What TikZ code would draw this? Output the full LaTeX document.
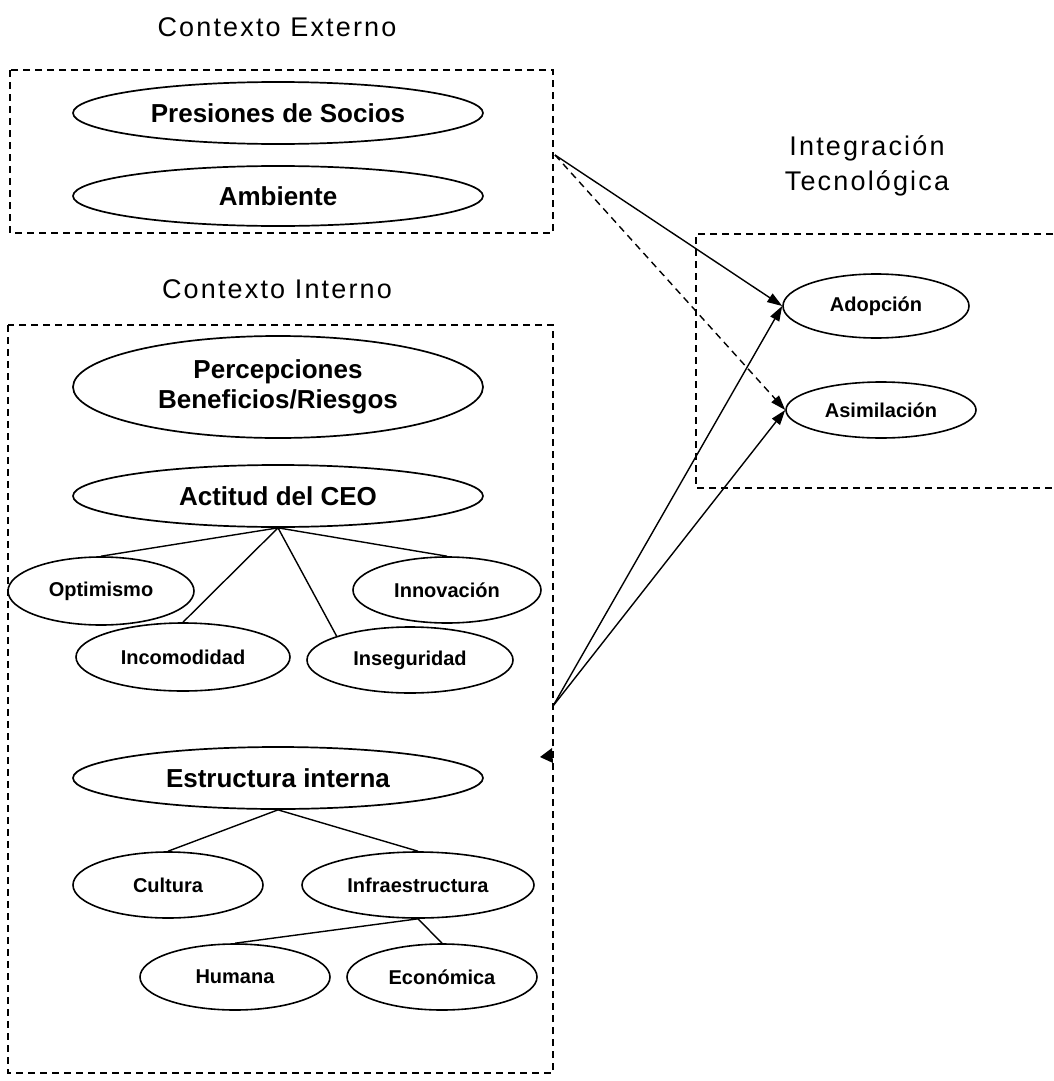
\documentclass[tikz,border=0pt]{standalone}
\usepackage{fontspec}
\setmainfont{Liberation Sans}
\newfontfamily\spacedfont[LetterSpace=8]{Liberation Sans}
\usetikzlibrary{shapes.geometric,arrows.meta}

\tikzset{
  bigoval/.style={draw, ellipse, line width=1.7pt, inner sep=0pt, minimum width=410pt,
    font=\fontsize{26}{30}\selectfont\bfseries, align=center},
  smalloval/.style={draw, ellipse, line width=1.6pt, inner sep=0pt,
    font=\fontsize{20}{22}\selectfont\bfseries},
  heading/.style={font=\fontsize{27}{35}\spacedfont, align=center},
  ctxbox/.style={line width=1.1pt, dash pattern=on 7pt off 5pt},
  branch/.style={line width=1.4pt},
  link/.style={line width=1.4pt, -{Triangle[length=15pt,width=10pt]}},
}

\begin{document}
\begin{tikzpicture}[x=1pt,y=-1pt]
\useasboundingbox (0,0) rectangle (1053,1081);

% Contexto externo
\node[heading] (exttitle) at (277,27) {Contexto Externo};
\draw[ctxbox] (10,70) rectangle (553,233);
\node[bigoval, minimum height=62pt] (socios) at (278,113) {Presiones de Socios};
\node[bigoval, minimum height=60pt] (ambiente) at (278,196) {Ambiente};

% Contexto interno
\node[heading] (inttitle) at (277,289) {Contexto Interno};
\draw[ctxbox] (8,325) rectangle (553,1073);
\node[bigoval, minimum height=102pt] (percep) at (278,387) {Percepciones\\Beneficios/Riesgos};
\node[bigoval, minimum height=62pt] (ceo) at (278,496) {Actitud del CEO};

% Actitud del CEO
\node[smalloval, minimum width=186pt, minimum height=68pt] (optimismo) at (101,591) {Optimismo};
\node[smalloval, minimum width=214pt, minimum height=68pt] (incomodidad) at (183,657) {Incomodidad};
\node[smalloval, minimum width=206pt, minimum height=66pt] (inseguridad) at (410,660) {Inseguridad};
\node[smalloval, minimum width=188pt, minimum height=66pt] (innovacion) at (447,590) {Innovación};
\draw[branch] (ceo.south) -- (optimismo.north);
\draw[branch] (ceo.south) -- (incomodidad.north);
\draw[branch] (ceo.south) -- (inseguridad.north west);
\draw[branch] (ceo.south) -- (innovacion.north);

% Estructura interna
\node[bigoval, minimum height=62pt] (estructura) at (278,778) {Estructura interna};
\node[smalloval, minimum width=190pt, minimum height=66pt] (cultura) at (168,885) {Cultura};
\node[smalloval, minimum width=232pt, minimum height=66pt] (infra) at (418,885) {Infraestructura};
\node[smalloval, minimum width=190pt, minimum height=66pt] (humana) at (235,977) {Humana};
\node[smalloval, minimum width=190pt, minimum height=66pt] (economica) at (442,977) {Económica};
\draw[branch] (estructura.south) -- (cultura.north);
\draw[branch] (estructura.south) -- (infra.north);
\draw[branch] (infra.south) -- (humana.north);
\draw[branch] (infra.south) -- (economica.north);
\fill (540,757) -- (552,748) -- (553,763) -- cycle;

% Integracion tecnologica
\node[heading] (tectitle) at (867,166) {Integración\\Tecnológica};
\draw[ctxbox] (1053,234) -- (696,234) -- (696,488) -- (1053,488);
\node[smalloval, minimum width=186pt, minimum height=64pt] (adopcion) at (876,306) {Adopción};
\node[smalloval, minimum width=190pt, minimum height=56pt] (asimilacion) at (881,410) {Asimilación};

% Relaciones
\coordinate (extout) at (555,155);
\coordinate (intout) at (553,706);
\draw[link] (extout) -- (adopcion.west);
\draw[link, dash pattern=on 7pt off 5pt] (extout) -- (asimilacion.west);
\draw[link] (intout) -- (adopcion.west);
\draw[link] (intout) -- (asimilacion.west);

\end{tikzpicture}
\end{document}
